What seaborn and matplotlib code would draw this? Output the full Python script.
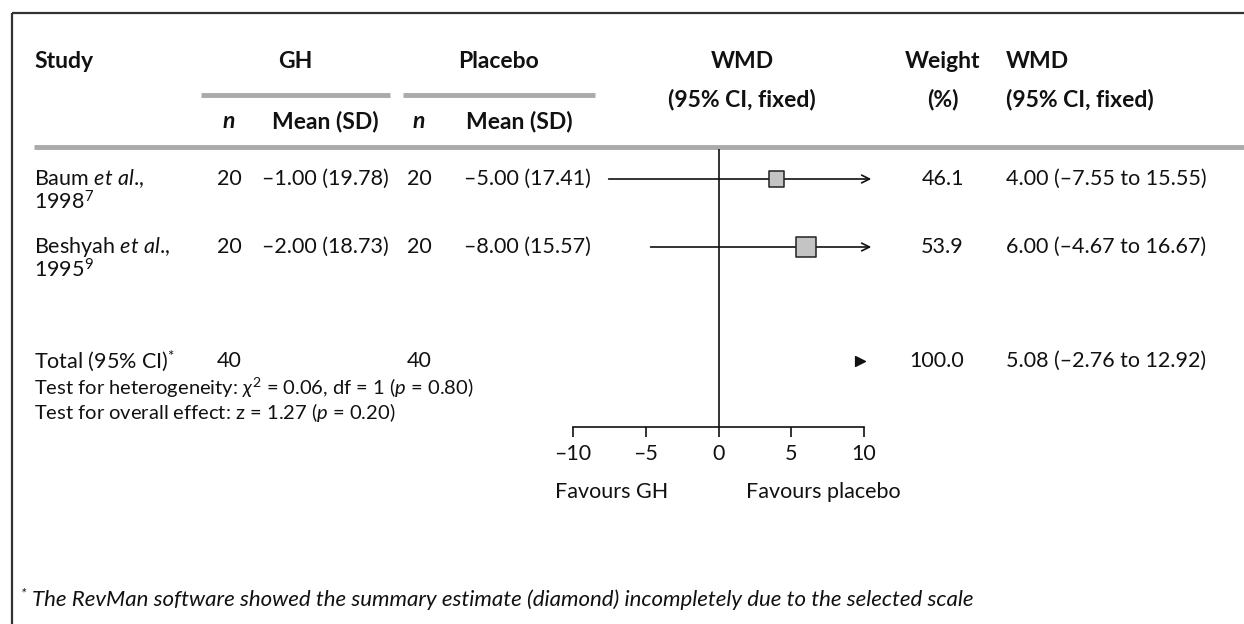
import matplotlib
matplotlib.use("Agg")
import matplotlib.pyplot as plt
import seaborn as sns
import pandas as pd

# ---- data -------------------------------------------------------------
studies = ["Baum", "Beshyah"]
years = ["1998", "1995"]
refs = ["7", "9"]
gh_n = [20, 20]
gh_mean = [-1.00, -2.00]
gh_sd = [19.78, 18.73]
pl_n = [20, 20]
pl_mean = [-5.00, -8.00]
pl_sd = [17.41, 15.57]
wmd = [4.00, 6.00]
ci_lo = [-7.55, -4.67]
ci_hi = [15.55, 16.67]
weight = [46.1, 53.9]

total_gh_n = 40
total_pl_n = 40
total_wmd = 5.08
total_lo = -2.76
total_hi = 12.92
total_weight = 100.0

het_text = r"Test for heterogeneity: $\chi^2$ = 0.06, df = 1 ($p$ = 0.80)"
overall_text = r"Test for overall effect: z = 1.27 ($p$ = 0.20)"
x_ticks = [-10, -5, 0, 5, 10]
x_range = (-10, 10)
footnote = "The RevMan software showed the summary estimate (diamond) incompletely due to the selected scale"

# ---- style ------------------------------------------------------------
sns.set_theme(style="white")
FONT = "Lato"
plt.rcParams["font.family"] = [FONT, "DejaVu Sans"]
plt.rcParams["mathtext.fontset"] = "custom"
plt.rcParams["mathtext.rm"] = FONT
plt.rcParams["mathtext.it"] = FONT + ":italic"
plt.rcParams["mathtext.bf"] = FONT + ":bold"

W, H = 1244, 624
fig = plt.figure(figsize=(W / 100, H / 100), dpi=100)
fig.patch.set_facecolor("white")

# page-level axes in pixel coordinates for the table text
ax = fig.add_axes([0, 0, 1, 1])
ax.set_xlim(0, W)
ax.set_ylim(H, 0)
ax.axis("off")

FS = 15.5      # body text
FS_HEAD = 16.5 # bold headings
FS_NOTE = 14.5 # test statistics
INK = "#111111"
txt = dict(fontsize=FS, color=INK, va="center")
head = dict(fontsize=FS_HEAD, color=INK, va="center", fontweight="bold")

def fmt(v):
    s = f"{abs(v):.2f}"
    return ("\u2013" + s) if v < 0 else s

# column anchors
LEFT = 34
C_GH_N, C_GH_M = 229, 325
C_PL_N, C_PL_M = 419, 527
C_FOREST_HEAD = 742
C_WEIGHT = 943
R_WEIGHT = 964
L_WMD = 1006

# frame
ax.plot([12, W], [13, 13], color="#333333", lw=1.6, solid_capstyle="butt")
ax.plot([12, 12], [13, H], color="#333333", lw=1.6, solid_capstyle="butt")

# header
GRAY = "#aaaaaa"
Y_H1, Y_H2, Y_H3 = 62, 99, 121
ax.text(LEFT, Y_H1, "Study", ha="left", **head)
ax.text(295, Y_H1, "GH", ha="center", **head)
ax.text(499, Y_H1, "Placebo", ha="center", **head)
ax.text(C_FOREST_HEAD, Y_H1, "WMD", ha="center", **head)
ax.text(C_FOREST_HEAD, Y_H2, "(95% CI, fixed)", ha="center", **head)
ax.text(C_WEIGHT, Y_H1, "Weight", ha="center", **head)
ax.text(C_WEIGHT, Y_H2, "(%)", ha="center", **head)
ax.text(L_WMD, Y_H1, "WMD", ha="left", **head)
ax.text(L_WMD, Y_H2, "(95% CI, fixed)", ha="left", **head)
ax.plot([201, 390], [95, 95], color=GRAY, lw=3.5, solid_capstyle="butt")
ax.plot([403, 595], [95, 95], color=GRAY, lw=3.5, solid_capstyle="butt")
ax.text(C_GH_N, Y_H3, "n", ha="center", style="italic", **head)
ax.text(C_GH_M, Y_H3, "Mean (SD)", ha="center", **head)
ax.text(C_PL_N, Y_H3, "n", ha="center", style="italic", **head)
ax.text(C_PL_M - 8, Y_H3, "Mean (SD)", ha="center", **head)
ax.plot([LEFT, W], [147, 147], color=GRAY, lw=3.5, solid_capstyle="butt")

# study rows
row_y = [179, 247]
SUB = 23
for i, name in enumerate(studies):
    y = row_y[i]
    ax.text(LEFT, y, name + r" $\mathit{et\ al}$.,", ha="left", **txt)
    ax.text(LEFT, y + SUB, years[i] + r"$^{" + refs[i] + r"}$", ha="left", **txt)
    ax.text(C_GH_N, y, f"{gh_n[i]}", ha="center", **txt)
    ax.text(C_GH_M, y, f"{fmt(gh_mean[i])} ({gh_sd[i]:.2f})", ha="center", **txt)
    ax.text(C_PL_N, y, f"{pl_n[i]}", ha="center", **txt)
    ax.text(C_PL_M, y, f"{fmt(pl_mean[i])} ({pl_sd[i]:.2f})", ha="center", **txt)
    ax.text(R_WEIGHT, y, f"{weight[i]:.1f}", ha="right", **txt)
    ax.text(L_WMD, y, f"{fmt(wmd[i])} ({fmt(ci_lo[i])} to {fmt(ci_hi[i])})", ha="left", **txt)

total_y = 361
ax.text(LEFT, total_y, r"Total (95% CI)$^{*}$", ha="left", **txt)
ax.text(C_GH_N, total_y, f"{total_gh_n}", ha="center", **txt)
ax.text(C_PL_N, total_y, f"{total_pl_n}", ha="center", **txt)
ax.text(R_WEIGHT, total_y, f"{total_weight:.1f}", ha="right", **txt)
ax.text(L_WMD, total_y, f"{fmt(total_wmd)} ({fmt(total_lo)} to {fmt(total_hi)})", ha="left", **txt)

ax.text(LEFT, 388, het_text, ha="left", fontsize=FS_NOTE, color=INK, va="center")
ax.text(LEFT, 413, overall_text, ha="left", fontsize=FS_NOTE, color=INK, va="center")

ax.text(21, 594, "*", ha="left", fontsize=10, color=INK, va="center", style="italic")
ax.text(32, 600, footnote, ha="left", style="italic", fontsize=16, color=INK, va="center")

# ---- forest panel -----------------------------------------------------
x0, x1 = 573, 864
y_axis, y_top = 427, 149
fax = fig.add_axes([x0 / W, (H - y_axis) / H, (x1 - x0) / W, (y_axis - y_top) / H])
fax.set_facecolor("none")
fax.set_xlim(*x_range)
fax.set_ylim(y_axis, y_top)
for s in ["left", "right", "top"]:
    fax.spines[s].set_visible(False)
fax.spines["bottom"].set_color(INK)
fax.spines["bottom"].set_linewidth(1.2)
fax.set_yticks([])
fax.set_xticks(x_ticks)
fax.set_xticklabels([("\u2013" + str(abs(t))) if t < 0 else str(t) for t in x_ticks])
fax.tick_params(axis="x", direction="out", length=7, width=1.2, color=INK,
                labelsize=FS, labelcolor=INK, pad=5, bottom=True)
fax.axvline(0, color=INK, lw=1.2, zorder=1)

# confidence intervals, clipped to the scale with arrows
for i in range(len(studies)):
    lo = max(ci_lo[i], x_range[0])
    hi = min(ci_hi[i], x_range[1])
    style_ = "->" if ci_hi[i] > x_range[1] else "-"
    fax.annotate("", xy=(hi + 0.5, row_y[i]), xytext=(lo, row_y[i]),
                 arrowprops=dict(arrowstyle=style_, lw=1.2, color=INK,
                                 shrinkA=0, shrinkB=0, mutation_scale=14),
                 annotation_clip=False, zorder=2)

df = pd.DataFrame({"wmd": wmd, "row": row_y, "weight": weight})
sns.scatterplot(data=df, x="wmd", y="row", size="weight", sizes=(125, 200),
                size_norm=(min(weight), max(weight)), marker="s",
                color="#c4c4c4", edgecolor="#222222", linewidth=1.1,
                legend=False, ax=fax, zorder=3)

# pooled estimate: only the visible tip of the diamond at the scale edge
tip = min(total_hi, x_range[1]) - 0.25
fax.scatter([tip], [total_y], marker=">", s=50, color=INK, zorder=3, clip_on=False)
fax.set_xlabel("")
fax.set_ylabel("")

ax.text(612, 492, "Favours GH", ha="center", **txt)
ax.text(823, 492, "Favours placebo", ha="center", **txt)

fig.savefig("out.png", dpi=100, facecolor="white")
